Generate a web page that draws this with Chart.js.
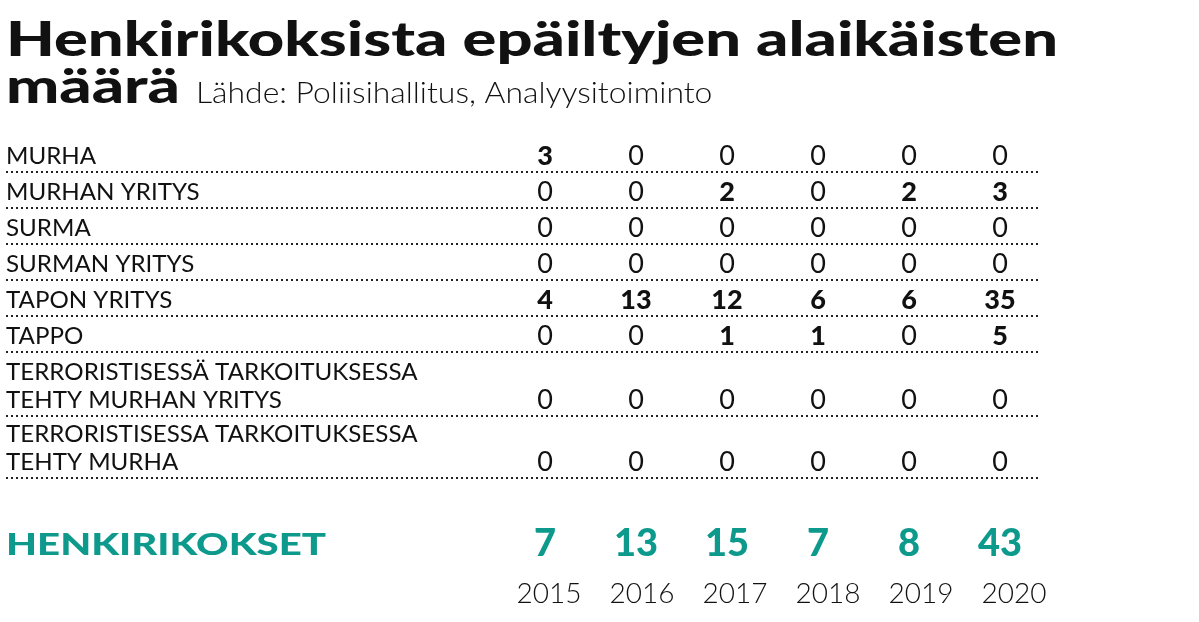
<!DOCTYPE html>
<html lang="fi">
<head>
<meta charset="UTF-8">
<title>Henkirikoksista epäiltyjen alaikäisten määrä</title>
<script src="https://cdn.jsdelivr.net/npm/chart.js"></script>
<style>
  body { margin: 0; background: #fff; }
  #wrap { position: relative; width: 1199px; height: 622px; }
</style>
</head>
<body>
<div id="wrap"><canvas id="c" width="1199" height="622"></canvas></div>
<script>
const years = ['2015', '2016', '2017', '2018', '2019', '2020'];
const categories = [
  ['MURHA'],
  ['MURHAN YRITYS'],
  ['SURMA'],
  ['SURMAN YRITYS'],
  ['TAPON YRITYS'],
  ['TAPPO'],
  ['TERRORISTISESSÄ TARKOITUKSESSA', 'TEHTY MURHAN YRITYS'],
  ['TERRORISTISESSA TARKOITUKSESSA', 'TEHTY MURHA']
];
const murha = [3, 0, 0, 0, 0, 0];
const murhanYritys = [0, 0, 2, 0, 2, 3];
const surma = [0, 0, 0, 0, 0, 0];
const surmanYritys = [0, 0, 0, 0, 0, 0];
const taponYritys = [4, 13, 12, 6, 6, 35];
const tappo = [0, 0, 1, 1, 0, 5];
const terrMurhanYritys = [0, 0, 0, 0, 0, 0];
const terrMurha = [0, 0, 0, 0, 0, 0];
const totals = [7, 13, 15, 7, 8, 43];

const rows = [murha, murhanYritys, surma, surmanYritys, taponYritys, tappo, terrMurhanYritys, terrMurha];
// row baselines (layout, pixels on the reversed y scale)
const rowY = [155, 191, 227, 263, 299, 335, 399, 461];
const totalY = 543, yearY = 591;

const points = [];
rows.forEach((r, ri) => r.forEach((v, ci) => points.push({ x: ci, y: rowY[ri], v: v })));

const teal = '#0d9a8c';

// draw text stretched horizontally by factor sx
function wideText(ctx, text, x, y, sx) {
  ctx.save();
  ctx.translate(x, y);
  ctx.scale(sx, 1);
  ctx.fillText(text, 0, 0);
  ctx.restore();
}

const tablePlugin = {
  id: 'table',
  afterDatasetsDraw(chart) {
    const ctx = chart.ctx, xs = chart.scales.x, ys = chart.scales.y;
    ctx.save();
    // title
    ctx.fillStyle = '#111';
    ctx.textBaseline = 'alphabetic';
    ctx.textAlign = 'left';
    ctx.font = '900 48px Lato';
    const line1 = 'Henkirikoksista epäiltyjen alaikäisten';
    const sx = 1052 / ctx.measureText(line1).width;
    wideText(ctx, line1, 6, 56, sx);
    wideText(ctx, 'määrä', 6, 103, sx);
    const w = ctx.measureText('määrä').width * sx;
    ctx.font = '300 29px Lato';
    wideText(ctx, 'Lähde: Poliisihallitus, Analyysitoiminto', 6 + w + 16, 103, 1.1);

    // labels + dotted lines
    ctx.font = '23px Lato';
    categories.forEach((lab, i) => {
      const y = ys.getPixelForValue(rowY[i]);
      lab.forEach((t, k) => wideText(ctx, t, 6, y + 9 - (lab.length - 1 - k) * 28, 1.05));
      ctx.setLineDash([2, 3]);
      ctx.lineWidth = 2;
      ctx.strokeStyle = '#222';
      ctx.beginPath();
      ctx.moveTo(6, y + 17);
      ctx.lineTo(1040, y + 17);
      ctx.stroke();
    });
    ctx.setLineDash([]);

    // values
    ctx.textAlign = 'center';
    const meta = chart.getDatasetMeta(0);
    meta.data.forEach((el, i) => {
      const p = points[i];
      ctx.font = (p.v ? '900 ' : '') + '27px Lato';
      ctx.fillText(String(p.v), el.x, el.y + 10);
    });

    // totals
    ctx.textAlign = 'left';
    ctx.fillStyle = teal;
    ctx.font = '900 31px Lato';
    const tw = ctx.measureText('HENKIRIKOKSET').width;
    wideText(ctx, 'HENKIRIKOKSET', 6, ys.getPixelForValue(totalY) + 12, 320 / tw);
    ctx.textAlign = 'center';
    ctx.font = '900 38px Lato';
    totals.forEach((t, i) => ctx.fillText(String(t), xs.getPixelForValue(i), ys.getPixelForValue(totalY) + 13));

    // years
    ctx.fillStyle = '#111';
    ctx.font = '300 28px Lato';
    years.forEach((y, i) => ctx.fillText(y, xs.getPixelForValue(i) + 4 + i * 2, ys.getPixelForValue(yearY) + 12));
    ctx.restore();
  }
};

new Chart(document.getElementById('c'), {
  type: 'scatter',
  data: { datasets: [{ data: points, pointRadius: 0 }] },
  options: {
    responsive: false,
    animation: false,
    layout: { padding: 0 },
    plugins: { legend: { display: false }, tooltip: { enabled: false } },
    scales: {
      x: { type: 'linear', display: false, min: -545 / 91, max: 5 + 199 / 91 },
      y: { type: 'linear', display: false, min: 0, max: 622, reverse: true }
    }
  },
  plugins: [tablePlugin]
});
</script>
</body>
</html>
